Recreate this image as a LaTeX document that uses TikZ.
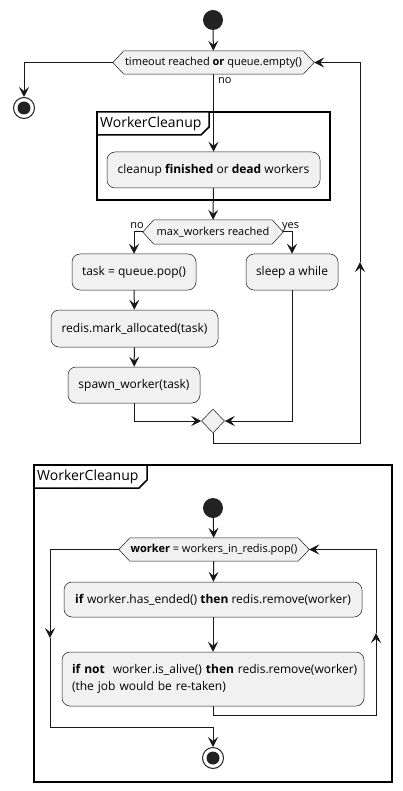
\documentclass[tikz,border=0pt]{standalone}
\usepackage{fontspec}
\setmainfont{Open Sans}
\usetikzlibrary{arrows.meta,shapes.geometric,backgrounds}
\definecolor{actfill}{HTML}{F1F1F1}
\definecolor{lin}{HTML}{181818}
\definecolor{dot}{HTML}{222222}
\newcommand\hexagonof[1]{\path[hexshape] (#1.west) -- ([xshift=11pt]#1.north west) -- ([xshift=-11pt]#1.north east) -- (#1.east) -- ([xshift=-11pt]#1.south east) -- ([xshift=11pt]#1.south west) -- cycle;}
\begin{document}
\begin{tikzpicture}[x=1pt,y=-1pt,
 act/.style={rectangle,rounded corners=8pt,fill=actfill,draw=lin,line width=0.5pt,inner sep=0pt,font=\fontsize{12}{15}\selectfont},
 hexn/.style={rectangle,inner sep=0pt,font=\fontsize{11}{13}\selectfont},
 hexshape/.style={fill=actfill,draw=lin,line width=0.5pt},
 flow/.style={draw=lin,line width=1pt,-{Stealth[length=10pt,width=10pt,inset=4pt]}},
 startn/.style={circle,fill=dot,minimum size=20pt,inner sep=0pt},
 endn/.style={circle,draw=dot,line width=1pt,fill=white,minimum size=21pt,inner sep=0pt,
   path picture={\fill[dot] (path picture bounding box.center) circle (6.5pt);}},
 frm/.style={draw=black,line width=1.5pt},
 tab/.style={draw=black,line width=1.5pt,fill=white},
 frmlbl/.style={font=\fontsize{14}{16}\selectfont,inner sep=0pt,anchor=west},
 lbl/.style={font=\fontsize{11}{13}\selectfont,inner sep=0pt}
]
\useasboundingbox (0,0) rectangle (402,791);

% ---------- frames ----------
\draw[frm] (97,112) rectangle (330,200);
\draw[tab] (97,112) -- (209,112) -- (209,127) -- (201,135) -- (97,135) -- cycle;
\node[frmlbl] (f1lbl) at (100,123.5) {WorkerCleanup};

\draw[frm] (34,465) rectangle (392,782);
\draw[tab] (34,465) -- (147,465) -- (147,480) -- (139,488) -- (34,488) -- cycle;
\node[frmlbl] (f2lbl) at (37,476.5) {WorkerCleanup};

% ---------- main flow ----------
\node[startn] (s1) at (213,20) {};
\node[hexn,minimum width=201pt,minimum height=23pt] (h1) at (213.5,62.5) {timeout reached \textbf{or} queue.empty()};
\node[endn] (e1) at (24,108) {};
\node[act,minimum width=213pt,minimum height=36pt] (clean) at (213.5,170) {cleanup \textbf{finished} or \textbf{dead} workers};
\node[hexn,minimum width=140pt,minimum height=24pt] (h2) at (213,232) {max\_workers reached};
\node[act,minimum width=124pt,minimum height=36pt] (task) at (134,272) {task = queue.pop()};
\node[act,minimum width=92pt,minimum height=36pt] (sleep) at (292,272) {sleep a while};
\node[act,minimum width=167pt,minimum height=37pt] (mark) at (134.5,328.5) {redis.mark\_allocated(task)};
\node[act,minimum width=132pt,minimum height=36pt] (spawn) at (134,385) {spawn\_worker(task)};
\node[diamond,fill=actfill,draw=lin,line width=0.5pt,minimum width=23pt,minimum height=24pt,inner sep=0pt] (merge) at (213,421) {};

\coordinate (lp1) at (360,443);
\coordinate (lpm) at (360,262);

\draw[flow] (s1) -- (h1);
\draw[flow] (h1.west) -| (e1);
\draw[flow] (h1.south) -- (clean);
\node[lbl,anchor=north west] (nolbl1) at (218,77) {no};
\draw[flow] (clean) -- (h2);
\draw[flow] (h2.west) -| (task);
\draw[flow] (h2.east) -| (sleep);
\node[lbl,anchor=base east] (nolbl2) at (144,229) {no};
\node[lbl,anchor=base west] (yeslbl) at (282,229) {yes};
\draw[flow] (task) -- (mark);
\draw[flow] (mark) -- (spawn);
\draw[flow] (spawn) |- (merge);
\draw[flow] (sleep) |- (merge);
\draw[flow] (merge.south) |- (lp1) -- (lpm);
\draw[flow] (lpm) |- (h1.east);

% ---------- cleanup detail ----------
\node[startn] (s2) at (213,508) {};
\node[hexn,minimum width=190pt,minimum height=23pt] (h3) at (214,549.5) {\textbf{worker} = workers\_in\_redis.pop()};
\node[act,minimum width=298pt,minimum height=35pt] (b1) at (213,599.5) {\textbf{if} worker.has\_ended() \textbf{then} redis.remove(worker)};
\node[act,inner xsep=10pt,text width=282pt,align=left,minimum height=54pt,font=\fontsize{12}{16.5}\selectfont] (b2) at (213,679) {\mbox{\textbf{if not}\ \ worker.is\_alive() \textbf{then} redis.remove(worker)}\\(the job would be re-taken)};
\node[endn] (e2) at (213,758) {};

\coordinate (lq1) at (376,715);
\coordinate (lqm) at (376,633);
\coordinate (lx) at (50,638);
\coordinate (lx2) at (213,727);

\draw[flow] (s2) -- (h3);
\draw[flow] (h3) -- (b1);
\draw[flow] (b1) -- (b2);
\draw[flow] (b2.south) |- (lq1) -- (lqm);
\draw[flow] (lqm) |- (h3.east);
\draw[flow] (h3.west) -| (lx);
\draw[flow] (lx) |- (lx2) -- (e2);

\begin{pgfonlayer}{background}
\fill[white] (0,0) rectangle (402,791);
\hexagonof{h1}
\hexagonof{h2}
\hexagonof{h3}
\end{pgfonlayer}
\end{tikzpicture}
\end{document}
